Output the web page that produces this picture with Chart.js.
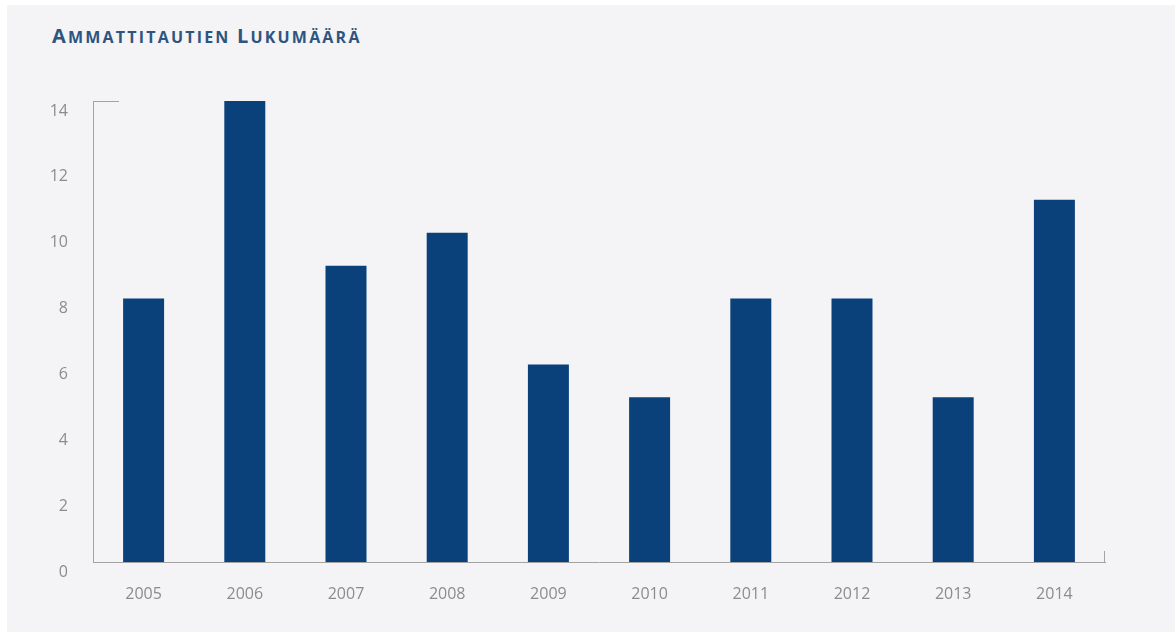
<!DOCTYPE html>
<html>
<head>
<meta charset="utf-8">
<script src="https://cdn.jsdelivr.net/npm/chart.js@4/dist/chart.umd.min.js"></script>
<style>
  html, body { margin: 0; padding: 0; background: #ffffff; width: 1175px; height: 632px; overflow: hidden; }
  #panel { position: absolute; left: 7px; top: 5px; width: 1168px; height: 627px; background: #f4f4f7; }
  #title { position: absolute; left: 52px; top: 26px; font-family: "Open Sans", sans-serif; font-weight: 700;
           font-size: 16px; color: #2d5580; letter-spacing: 2.2px; white-space: nowrap; line-height: 20px; }
  #title .big { font-size: 20px; }
  #wrap { position: absolute; left: 0; top: 0; width: 1175px; height: 632px; }
</style>
</head>
<body>
<div id="panel"></div>
<div id="title"><span class="big">A</span>MMATTITAUTIEN <span class="big">L</span>UKUMÄÄRÄ</div>
<div id="wrap"><canvas id="c" width="1175" height="632"></canvas></div>
<script>
const categories = ["2005", "2006", "2007", "2008", "2009", "2010", "2011", "2012", "2013", "2014"];
const values = [8, 14, 9, 10, 6, 5, 8, 8, 5, 11];
const yTicks = [0, 2, 4, 6, 8, 10, 12, 14];

const axisColor = "#a3a3a3";
const capPlugin = {
  id: "caps",
  afterDraw(chart) {
    const { ctx, chartArea } = chart;
    ctx.save();
    ctx.strokeStyle = axisColor;
    ctx.lineWidth = 1;
    ctx.beginPath();
    ctx.moveTo(chartArea.left + 0.5, chartArea.top + 0.5);
    ctx.lineTo(chartArea.left + 26, chartArea.top + 0.5);
    ctx.moveTo(chartArea.right - 0.5, chartArea.bottom);
    ctx.lineTo(chartArea.right - 0.5, chartArea.bottom - 11);
    ctx.stroke();
    ctx.restore();
  }
};

new Chart(document.getElementById("c"), {
  type: "bar",
  data: {
    labels: categories,
    datasets: [{ data: values, backgroundColor: "#0b417a", barPercentage: 0.405, categoryPercentage: 1 }]
  },
  options: {
    responsive: false,
    animation: false,
    devicePixelRatio: 1,
    layout: { padding: { left: 0, top: 101, right: 70, bottom: 0 } },
    plugins: { legend: { display: false }, tooltip: { enabled: false } },
    scales: {
      x: {
        grid: { display: false },
        border: { display: true, color: axisColor, width: 1 },
        ticks: { color: "#8c8c8c", font: { family: "Open Sans", size: 16 }, padding: 15, maxRotation: 0 },
        afterFit(scale) { scale.height = 70; }
      },
      y: {
        min: 0, max: 14,
        afterBuildTicks(scale) { scale.ticks = yTicks.map(v => ({ value: v })); },
        grid: { display: false },
        border: { display: true, color: axisColor, width: 1 },
        ticks: { color: "#8c8c8c", font: { family: "Open Sans", size: 16 }, padding: 17, labelOffset: 10 },
        afterFit(scale) { scale.width = 93; }
      }
    }
  },
  plugins: [capPlugin]
});
</script>
</body>
</html>
